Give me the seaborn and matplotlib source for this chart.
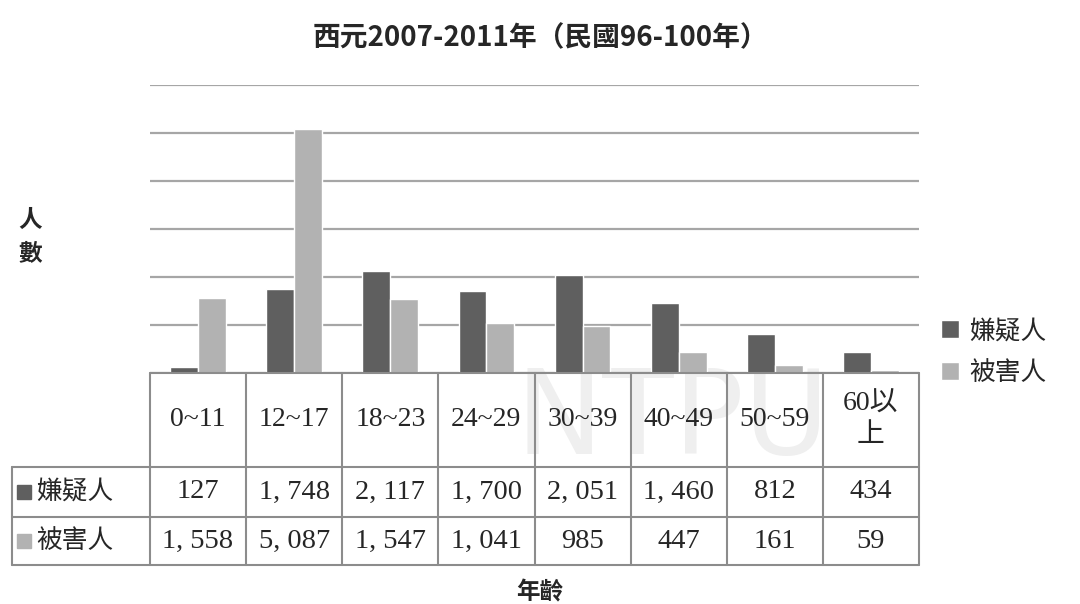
import numpy as np
import matplotlib
matplotlib.use("Agg")
import matplotlib.pyplot as plt
import seaborn as sns
import pandas as pd

age_groups = ["0~11", "12~17", "18~23", "24~29", "30~39", "40~49", "50~59", "60以\n上"]
suspects = [127, 1748, 2117, 1700, 2051, 1460, 812, 434]
victims = [1558, 5087, 1547, 1041, 985, 447, 161, 59]
series_names = ["嫌疑人", "被害人"]
colors = ["#5f5f5f", "#b2b2b2"]

sns.set_theme(style="white")
plt.rcParams['font.family'] = ['Noto Sans CJK TC', 'DejaVu Sans']
num_font = ['Liberation Serif', 'Noto Sans CJK TC']

data = pd.DataFrame({
    "age": age_groups * 2,
    "count": suspects + victims,
    "who": [series_names[0]] * len(age_groups) + [series_names[1]] * len(age_groups),
})

fig = plt.figure(figsize=(10.8, 6.04), dpi=100)
ax = fig.add_axes([150 / 1080, 1 - 373 / 604, 769 / 1080, 288 / 604])

sns.barplot(data=data, x="age", y="count", hue="who", palette=colors, width=0.58,
            saturation=1, ax=ax, legend=True, zorder=3)

ax.set_ylim(0, 6000)
ax.set_xlim(-0.5, len(age_groups) - 0.5)
ax.set_yticks(np.arange(0, 6001, 1000))
ax.yaxis.grid(True, color="#a6a6a6", lw=1.6, zorder=0)
ax.set_axisbelow(True)
ax.set_xticks([])
ax.set_yticklabels([])
ax.tick_params(left=False, bottom=False)
ax.set_xlabel("")
ax.set_ylabel("")
for s in ax.spines.values():
    s.set_visible(False)
ax.patch.set_alpha(0)

tr = ax.get_xaxis_transform()

# faint watermark behind the table
ax.text(3.3, -0.17, "NTPU", transform=tr, fontsize=84, color="#efefef", ha="left",
        va="center", family="DejaVu Sans", zorder=0.5, clip_on=False)

# data table below the axis
lc = "#8c8c8c"
rows_y = [0, -94 / 288, -144 / 288, -192 / 288]
n = len(age_groups)
label_left = -0.5 - 138 / 96.1
kw = dict(transform=tr, clip_on=False, color=lc, lw=1.5, zorder=5)
ax.plot([-0.5, n - 0.5], [rows_y[0]] * 2, **kw)
for y in rows_y[1:]:
    ax.plot([label_left, n - 0.5], [y, y], **kw)
for i in range(n + 1):
    ax.plot([i - 0.5, i - 0.5], [rows_y[0], rows_y[3]], **kw)
ax.plot([label_left, label_left], [rows_y[1], rows_y[3]], **kw)

for i, lab in enumerate(age_groups):
    ax.text(i, (rows_y[0] + rows_y[1]) / 2, lab, transform=tr, ha="center", va="center",
            fontsize=20, family=num_font, linespacing=1.35, clip_on=False, zorder=6)
for r, vals in enumerate([suspects, victims]):
    yc = (rows_y[r + 1] + rows_y[r + 2]) / 2
    for i, v in enumerate(vals):
        ax.text(i, yc, f"{v:,}".replace(",", ", "), transform=tr, ha="center", va="center",
                fontsize=20.5, family=num_font, clip_on=False, zorder=6)
    ax.plot([label_left + 0.13], [yc], marker="s", ms=10, color=colors[r], transform=tr,
            clip_on=False)
    ax.text(label_left + 0.25, yc, series_names[r], transform=tr, ha="left", va="center",
            fontsize=18.5, clip_on=False)

# legend
h, l = ax.get_legend_handles_labels()
ax.legend(h, l, loc="center left", bbox_to_anchor=(918 / 1080, 1 - 352 / 604),
          bbox_transform=fig.transFigure, frameon=False, fontsize=18.5,
          handlelength=0.7, handleheight=0.7, handletextpad=0.4, labelspacing=0.6)

fig.text(0.5, 1 - 38 / 604, "西元2007-2011年（民國96-100年）", ha="center", va="center",
         fontsize=20, fontweight="bold")
fig.text(30 / 1080, 1 - 237 / 604, "人\n數", ha="center", va="center", fontsize=17,
         fontweight="bold", linespacing=1.5)
fig.text(0.5, 1 - 592 / 604, "年齡", ha="center", va="center", fontsize=17, fontweight="bold")

fig.savefig("out.png", dpi=100)
